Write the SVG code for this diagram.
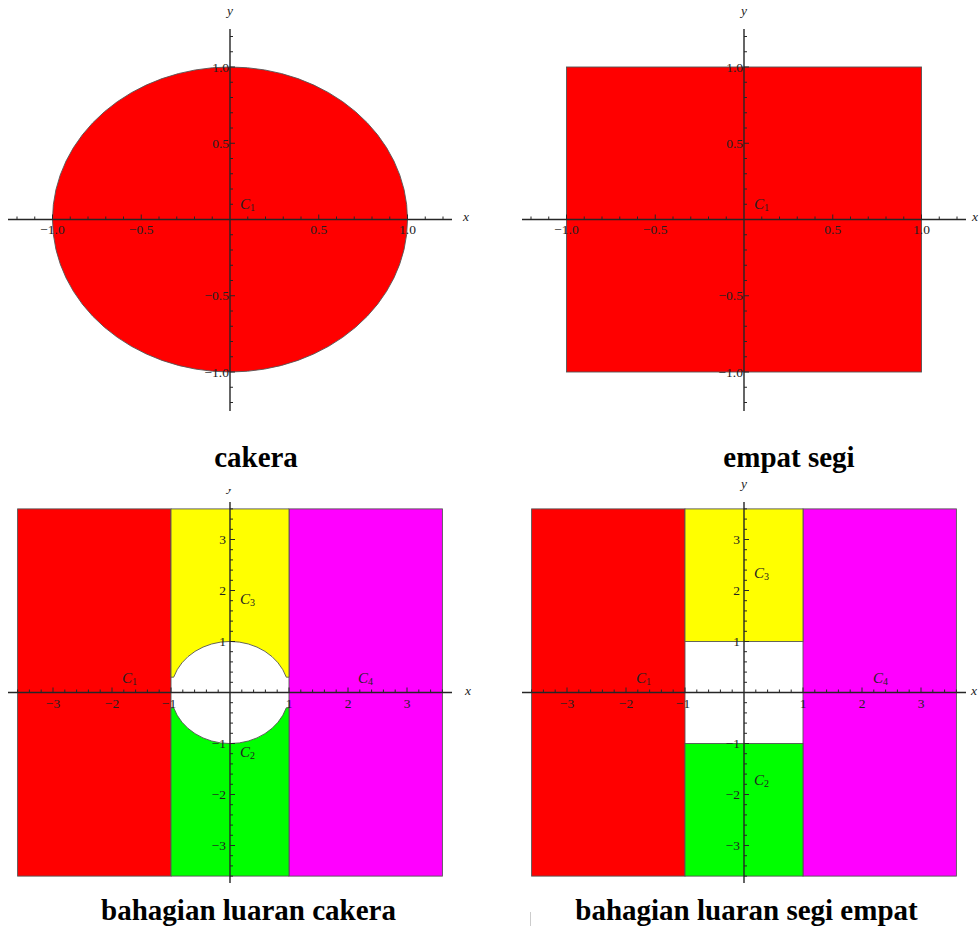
<svg xmlns="http://www.w3.org/2000/svg" xmlns:xlink="http://www.w3.org/1999/xlink" width="980" height="930" viewBox="0 0 980 930">
<style>
.bg{fill:#ffffff}
.reg{stroke:#555555;stroke-width:0.9}
.red{fill:#ff0000}.yel{fill:#ffff00}.grn{fill:#00ff00}.mag{fill:#ff00ff}
.ax{stroke:#262626;stroke-width:1.4;fill:none}
.tk{stroke:#262626;stroke-width:1;fill:none}
.lab{font-family:"Liberation Serif","Times New Roman",serif;font-size:13.5px;fill:#222222}
.mid{text-anchor:middle}
.end{text-anchor:end}
.it{font-style:italic}
.cl{font-family:"Liberation Serif","Times New Roman",serif;font-size:15px;font-style:italic;fill:#222222}
.sub{font-size:10px;font-style:normal}
.cap{font-family:"Liberation Serif","Times New Roman",serif;font-size:29px;font-weight:bold;fill:#000000;text-anchor:middle}
</style>
<defs>
<g id="axTop">
<path class="ax" d="M-222 0H222M0 -190.5V191.5"/>
<path class="tk" d="M17.75 0v-3M35.5 0v-3M53.25 0v-3M71 0v-3M106.5 0v-3M124.25 0v-3M142 0v-3M159.75 0v-3M195.25 0v-3M213 0v-3M-17.75 0v-3M-35.5 0v-3M-53.25 0v-3M-71 0v-3M-106.5 0v-3M-124.25 0v-3M-142 0v-3M-159.75 0v-3M-195.25 0v-3M-213 0v-3M88.75 0v-5M177.5 0v-5M-88.75 0v-5M-177.5 0v-5"/>
<path class="tk" d="M0 15.25h3M0 30.5h3M0 45.75h3M0 61h3M0 91.5h3M0 106.75h3M0 122h3M0 137.25h3M0 167.75h3M0 183h3M0 -15.25h3M0 -30.5h3M0 -45.75h3M0 -61h3M0 -91.5h3M0 -106.75h3M0 -122h3M0 -137.25h3M0 -167.75h3M0 -183h3M0 76.25h5M0 152.5h5M0 -76.25h5M0 -152.5h5"/>
</g>
<g id="axBot">
<path class="ax" d="M-222 0H222M0 -190.5V190.5"/>
<path class="tk" d="M11.8 0v-3M23.6 0v-3M35.4 0v-3M47.2 0v-3M70.8 0v-3M82.6 0v-3M94.4 0v-3M106.2 0v-3M129.8 0v-3M141.6 0v-3M153.4 0v-3M165.2 0v-3M188.8 0v-3M200.6 0v-3M212.4 0v-3M-11.8 0v-3M-23.6 0v-3M-35.4 0v-3M-47.2 0v-3M-70.8 0v-3M-82.6 0v-3M-94.4 0v-3M-106.2 0v-3M-129.8 0v-3M-141.6 0v-3M-153.4 0v-3M-165.2 0v-3M-188.8 0v-3M-200.6 0v-3M-212.4 0v-3M59 0v-5M118 0v-5M177 0v-5M-59 0v-5M-118 0v-5M-177 0v-5"/>
<path class="tk" d="M0 10.2h3M0 20.4h3M0 30.6h3M0 40.8h3M0 61.2h3M0 71.4h3M0 81.6h3M0 91.8h3M0 112.2h3M0 122.4h3M0 132.6h3M0 142.8h3M0 163.2h3M0 173.4h3M0 183.6h3M0 -10.2h3M0 -20.4h3M0 -30.6h3M0 -40.8h3M0 -61.2h3M0 -71.4h3M0 -81.6h3M0 -91.8h3M0 -112.2h3M0 -122.4h3M0 -132.6h3M0 -142.8h3M0 -163.2h3M0 -173.4h3M0 -183.6h3M0 51h5M0 102h5M0 153h5M0 -51h5M0 -102h5M0 -153h5"/>
</g>
<clipPath id="clipY"><rect x="215" y="489" width="30" height="5"/></clipPath>
</defs>
<rect class="bg" x="0" y="0" width="980" height="930"/>

<g id="plot-cakera">
<ellipse class="reg red" cx="230" cy="219.5" rx="177.5" ry="152.5"/>
<use xlink:href="#axTop" href="#axTop" transform="translate(230,219.5)"/>
<text class="lab it" x="463" y="221">x</text>
<text class="lab it mid" x="230" y="15">y</text>
<text class="lab mid" x="52.5" y="234">−1.0</text>
<text class="lab mid" x="141.25" y="234">−0.5</text>
<text class="lab mid" x="318.75" y="234">0.5</text>
<text class="lab mid" x="407.5" y="234">1.0</text>
<text class="lab end" x="229" y="71.5">1.0</text>
<text class="lab end" x="229" y="147.75">0.5</text>
<text class="lab end" x="229" y="300.25">−0.5</text>
<text class="lab end" x="229" y="376.5">−1.0</text>
<text class="cl" x="240" y="209">C<tspan class="sub" dy="2">1</tspan></text>
<text class="cap" x="256" y="467">cakera</text>
</g>

<g id="plot-empat-segi">
<rect class="reg red" x="566.5" y="67" width="355" height="305"/>
<use xlink:href="#axTop" href="#axTop" transform="translate(744,219.5)"/>
<text class="lab it" x="972" y="221">x</text>
<text class="lab it mid" x="744" y="15">y</text>
<text class="lab mid" x="566.5" y="234">−1.0</text>
<text class="lab mid" x="655.25" y="234">−0.5</text>
<text class="lab mid" x="832.75" y="234">0.5</text>
<text class="lab mid" x="921.5" y="234">1.0</text>
<text class="lab end" x="743" y="71.5">1.0</text>
<text class="lab end" x="743" y="147.75">0.5</text>
<text class="lab end" x="743" y="300.25">−0.5</text>
<text class="lab end" x="743" y="376.5">−1.0</text>
<text class="cl" x="754" y="209">C<tspan class="sub" dy="2">1</tspan></text>
<text class="cap" x="789" y="467">empat segi</text>
</g>

<g id="plot-luaran-cakera">
<rect class="reg red" x="17.6" y="508.9" width="153.4" height="367.2"/>
<rect class="reg mag" x="289" y="508.9" width="153.4" height="367.2"/>
<path class="reg yel" d="M171 508.9H289V677.2H286.3A59 51 0 0 0 173.7 677.2H171Z"/>
<path class="reg grn" d="M171 876.1H289V707.8H286.3A59 51 0 0 1 173.7 707.8H171Z"/>
<use xlink:href="#axBot" href="#axBot" transform="translate(230,692.5)"/>
<text class="lab it" x="465" y="695">x</text>
<text class="lab it mid" x="230" y="491" clip-path="url(#clipY)">y</text>
<text class="lab mid" x="53" y="708">−3</text>
<text class="lab mid" x="112" y="708">−2</text>
<text class="lab mid" x="169" y="708">−1</text>
<text class="lab mid" x="289" y="708">1</text>
<text class="lab mid" x="348" y="708">2</text>
<text class="lab mid" x="407" y="708">3</text>
<text class="lab end" x="226" y="544">3</text>
<text class="lab end" x="226" y="595">2</text>
<text class="lab end" x="226" y="646">1</text>
<text class="lab end" x="226" y="748">−1</text>
<text class="lab end" x="226" y="799">−2</text>
<text class="lab end" x="226" y="850">−3</text>
<text class="cl" x="122" y="683">C<tspan class="sub" dy="2">1</tspan></text>
<text class="cl" x="240" y="604">C<tspan class="sub" dy="2">3</tspan></text>
<text class="cl" x="358" y="683">C<tspan class="sub" dy="2">4</tspan></text>
<text class="cl" x="240" y="757">C<tspan class="sub" dy="2">2</tspan></text>
<text class="cap" x="248.5" y="920">bahagian luaran cakera</text>
</g>

<g id="plot-luaran-segi-empat">
<rect class="reg red" x="531.6" y="508.9" width="153.4" height="367.2"/>
<rect class="reg mag" x="803" y="508.9" width="153.4" height="367.2"/>
<rect class="reg yel" x="685" y="508.9" width="118" height="132.6"/>
<rect class="reg grn" x="685" y="743.5" width="118" height="132.6"/>
<use xlink:href="#axBot" href="#axBot" transform="translate(744,692.5)"/>
<text class="lab it" x="971" y="695">x</text>
<text class="lab it mid" x="744" y="488">y</text>
<text class="lab mid" x="567" y="708">−3</text>
<text class="lab mid" x="626" y="708">−2</text>
<text class="lab mid" x="683" y="708">−1</text>
<text class="lab mid" x="803" y="708">1</text>
<text class="lab mid" x="862" y="708">2</text>
<text class="lab mid" x="921" y="708">3</text>
<text class="lab end" x="740" y="544">3</text>
<text class="lab end" x="740" y="595">2</text>
<text class="lab end" x="740" y="646">1</text>
<text class="lab end" x="740" y="748">−1</text>
<text class="lab end" x="740" y="799">−2</text>
<text class="lab end" x="740" y="850">−3</text>
<text class="cl" x="636" y="683">C<tspan class="sub" dy="2">1</tspan></text>
<text class="cl" x="754" y="578">C<tspan class="sub" dy="2">3</tspan></text>
<text class="cl" x="873" y="683">C<tspan class="sub" dy="2">4</tspan></text>
<text class="cl" x="754" y="785">C<tspan class="sub" dy="2">2</tspan></text>
<text class="cap" x="746.5" y="920">bahagian luaran segi empat</text>
<line x1="530.5" y1="912" x2="530.5" y2="926" stroke="#cccccc" stroke-width="1"/>
</g>
</svg>
